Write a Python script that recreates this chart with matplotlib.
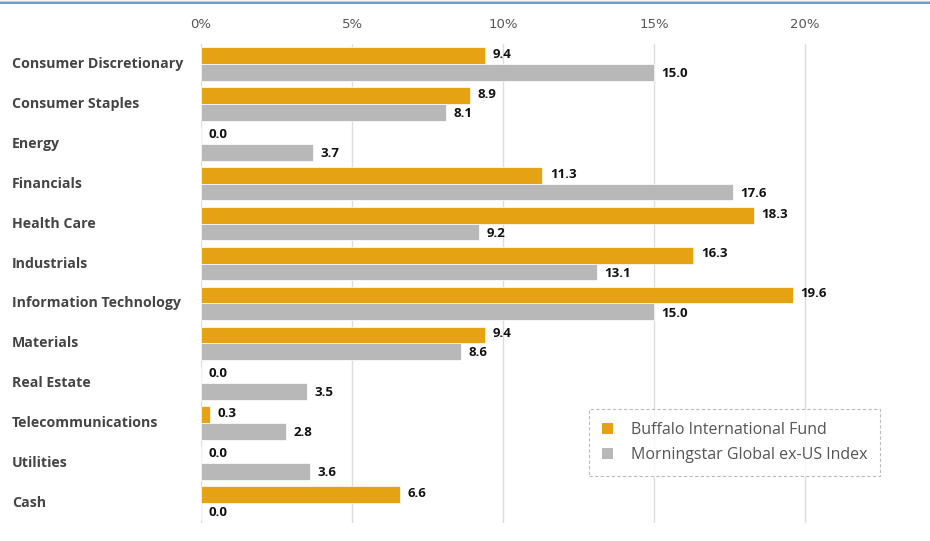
import matplotlib.pyplot as plt
from matplotlib.lines import Line2D
from matplotlib.patches import Patch
import numpy as np

categories = ["Consumer Discretionary", "Consumer Staples", "Energy", "Financials",
              "Health Care", "Industrials", "Information Technology", "Materials",
              "Real Estate", "Telecommunications", "Utilities", "Cash"]
fund = [9.4, 8.9, 0.0, 11.3, 18.3, 16.3, 19.6, 9.4, 0.0, 0.3, 0.0, 6.6]
index = [15.0, 8.1, 3.7, 17.6, 9.2, 13.1, 15.0, 8.6, 3.5, 2.8, 3.6, 0.0]
xticks = [0, 5, 10, 15, 20]

plt.rcParams['font.family'] = ['Open Sans', 'DejaVu Sans']
orange = "#E5A314"
gray = "#B8B8B8"

fig = plt.figure(figsize=(9.3, 5.41), dpi=100)
ax = fig.add_axes([201 / 930, 1 - 523 / 541, 1 - 201 / 930, (523 - 44) / 541])

y = np.arange(len(categories))
h = 0.42
ax.barh(y - h / 2, fund, height=h, color=orange, edgecolor="white", linewidth=0.5, zorder=3)
ax.barh(y + h / 2, index, height=h, color=gray, edgecolor="white", linewidth=0.5, zorder=3)

for i in range(len(categories)):
    ax.text(fund[i] + 0.25, y[i] - h / 2 - 0.03, f"{fund[i]:.1f}", va="center", ha="left",
            fontsize=9.5, fontweight="bold", color="#111111")
    ax.text(index[i] + 0.25, y[i] + h / 2 + 0.03, f"{index[i]:.1f}", va="center", ha="left",
            fontsize=9.5, fontweight="bold", color="#111111")

ax.set_xlim(0, 729 / 30.2)
ax.set_ylim(len(categories) - 0.5, -0.5)
ax.set_xticks(xticks)
ax.set_xticklabels([f"{t}%" for t in xticks], fontsize=9.5, color="#555555",
                   family=['Liberation Sans Narrow', 'DejaVu Sans'])
ax.xaxis.tick_top()
ax.tick_params(axis="x", length=0, pad=9)
ax.set_yticks([])
ax.grid(axis="x", color="#dddddd", linewidth=1, zorder=0)
for s in ax.spines.values():
    s.set_visible(False)

for i, c in enumerate(categories):
    ax.text(-189 / 30.2, y[i], c, ha="left", va="center", fontsize=10.2,
            fontweight="bold", color="#444444")

handles = [Patch(facecolor=orange, edgecolor="none"), Patch(facecolor=gray, edgecolor="none")]
leg = ax.legend(handles, ["Buffalo International Fund", "Morningstar Global ex-US Index"],
                loc="upper left", bbox_to_anchor=((589 - 201) / 729, (523 - 409) / 479),
                frameon=True, fancybox=False, fontsize=11.5, handlelength=0.7, handleheight=0.7,
                labelspacing=0.6, borderpad=0.8, handletextpad=1.1, borderaxespad=0,
                labelcolor="#555555")
leg.get_frame().set_edgecolor("#aaaaaa")
leg.get_frame().set_linestyle((0, (3, 2)))
leg.get_frame().set_linewidth(0.8)

fig.add_artist(Line2D([0, 1], [1 - 0.5 / 541, 1 - 0.5 / 541], color="#cccccc", linewidth=1))
fig.add_artist(Line2D([0, 1], [1 - 2.5 / 541, 1 - 2.5 / 541], color="#5b86c0", linewidth=1.2))

fig.savefig("out.png", dpi=100)
